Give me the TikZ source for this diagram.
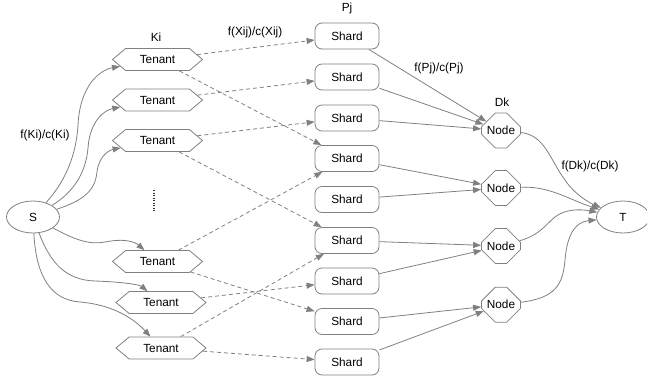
\documentclass[tikz,border=0pt]{standalone}
\usepackage{fontspec}
\setmainfont{Liberation Sans}
\usetikzlibrary{arrows.meta,shapes.symbols,shapes.misc,shapes.geometric}
\definecolor{edgegray}{RGB}{128,128,128}
\begin{document}
\begin{tikzpicture}[x=1pt,y=-1pt,
  every node/.style={font=\fontsize{11.8}{14}\selectfont, text=black},
  tenant/.style={draw=edgegray, line width=0.8pt, shape=signal, signal to=west and east, signal pointer angle=80, minimum width=90pt, minimum height=22pt, inner sep=0pt},
  shard/.style={draw=edgegray, line width=0.8pt, rectangle, rounded corners=7pt, minimum width=64pt, minimum height=26pt, inner sep=0pt},
  dnode/.style={draw=edgegray, line width=0.8pt, chamfered rectangle, chamfered rectangle xsep=10pt, chamfered rectangle ysep=9.5pt, minimum width=39pt, minimum height=35pt, inner sep=0pt},
  term/.style={draw=edgegray, line width=0.8pt, ellipse, minimum width=53pt, minimum height=32pt, inner sep=0pt},
  lbl/.style={inner sep=0pt},
  arr/.style={draw=edgegray, line width=0.8pt, -{Triangle[length=8pt,width=6pt]}, fill=none},
  darr/.style={arr, dash pattern=on 4pt off 3pt},
]
\useasboundingbox (0,0) rectangle (647,378);
% source and sink
\node[term] (S) at (33,217) {S};
\node[term] (T) at (623,217) {T};
% tenants
\node[tenant] (T1) at (157.5,59.5) {Tenant};
\node[tenant] (T2) at (157.5,100) {Tenant};
\node[tenant] (T3) at (157.5,140.5) {Tenant};
\node[tenant] (T4) at (157.5,261.5) {Tenant};
\node[tenant] (T5) at (161,302.5) {Tenant};
\node[tenant] (T6) at (161,348) {Tenant};
% shards
\node[shard] (P1) at (347,36) {Shard};
\node[shard] (P2) at (347,77) {Shard};
\node[shard] (P3) at (347,118) {Shard};
\node[shard] (P4) at (347,158.5) {Shard};
\node[shard] (P5) at (347,199.5) {Shard};
\node[shard] (P6) at (347,240.5) {Shard};
\node[shard] (P7) at (347,281) {Shard};
\node[shard] (P8) at (347,321.5) {Shard};
\node[shard] (P9) at (347,362) {Shard};
% nodes
\node[dnode] (N1) at (501,130.5) {Node};
\node[dnode] (N2) at (501,188) {Node};
\node[dnode] (N3) at (501,246) {Node};
\node[dnode] (N4) at (501,304.7) {Node};
% labels
\node[lbl] (lKi) at (156,37) {Ki};
\node[lbl] (lPj) at (347,8) {Pj};
\node[lbl] (lDk) at (502,102) {Dk};
\node[lbl] (lfK) at (45,135) {f(Ki)/c(Ki)};
\node[lbl] (lfX) at (255,32) {f(Xij)/c(Xij)};
\node[lbl] (lfP) at (439,68) {f(Pj)/c(Pj)};
\node[lbl] (lfD) at (590,166) {f(Dk)/c(Dk)};
% dots
\draw[black!80, line width=1.2pt, dash pattern=on 1.2pt off 1.3pt] (154,190) -- (154,212);
% S -> tenants
\draw[arr] (S) .. controls (62,185) and (76,160) .. (78,125) .. controls (80,85) and (100,70) .. (T1);
\draw[arr] (S) .. controls (74,192) and (86,172) .. (88,148) .. controls (90,120) and (105,110) .. (T2);
\draw[arr] (S) .. controls (85,200) and (95,190) .. (97,172) .. controls (99,155) and (110,150) .. (T3);
\draw[arr] (S) .. controls (75,240) and (90,245) .. (105,242) .. controls (125,238) and (135,242) .. (T4);
\draw[arr] (S) .. controls (50,262) and (65,280) .. (95,281) .. controls (125,282) and (140,285) .. (T5);
\draw[arr] (S) .. controls (36,275) and (50,300) .. (80,302) .. controls (115,305) and (135,320) .. (T6);
% tenants -> shards
\draw[darr] (T1) -- (P1);
\draw[darr] (T1) -- (P4);
\draw[darr] (T2) -- (P2);
\draw[darr] (T3) -- (P3);
\draw[darr] (T3) -- (P6);
\draw[darr] (T4) -- (P4);
\draw[darr] (T4) -- (P8);
\draw[darr] (T5) -- (P7);
\draw[darr] (T6) -- (P6);
\draw[darr] (T6) -- (P9);
% shards -> nodes
\draw[arr] (P1) -- (N1);
\draw[arr] (P2) -- (N1);
\draw[arr] (P3) -- (N1);
\draw[arr] (P4) -- (N2);
\draw[arr] (P5) -- (N2);
\draw[arr] (P6) -- (N3);
\draw[arr] (P7) -- (N3);
\draw[arr] (P8) -- (N4);
\draw[arr] (P9) -- (N4);
% nodes -> T
\draw[arr] (N1) .. controls (545,135) and (550,160) .. (565,180) .. controls (575,195) and (590,203) .. (T);
\draw[arr] (N2) .. controls (550,186) and (570,200) .. (T);
\draw[arr] (N3) .. controls (540,235) and (545,225) .. (555,217) .. controls (565,209) and (580,209) .. (T);
\draw[arr] (N4) .. controls (555,298) and (563,285) .. (565,260) .. controls (567,235) and (575,222) .. (T);
\end{tikzpicture}
\end{document}
